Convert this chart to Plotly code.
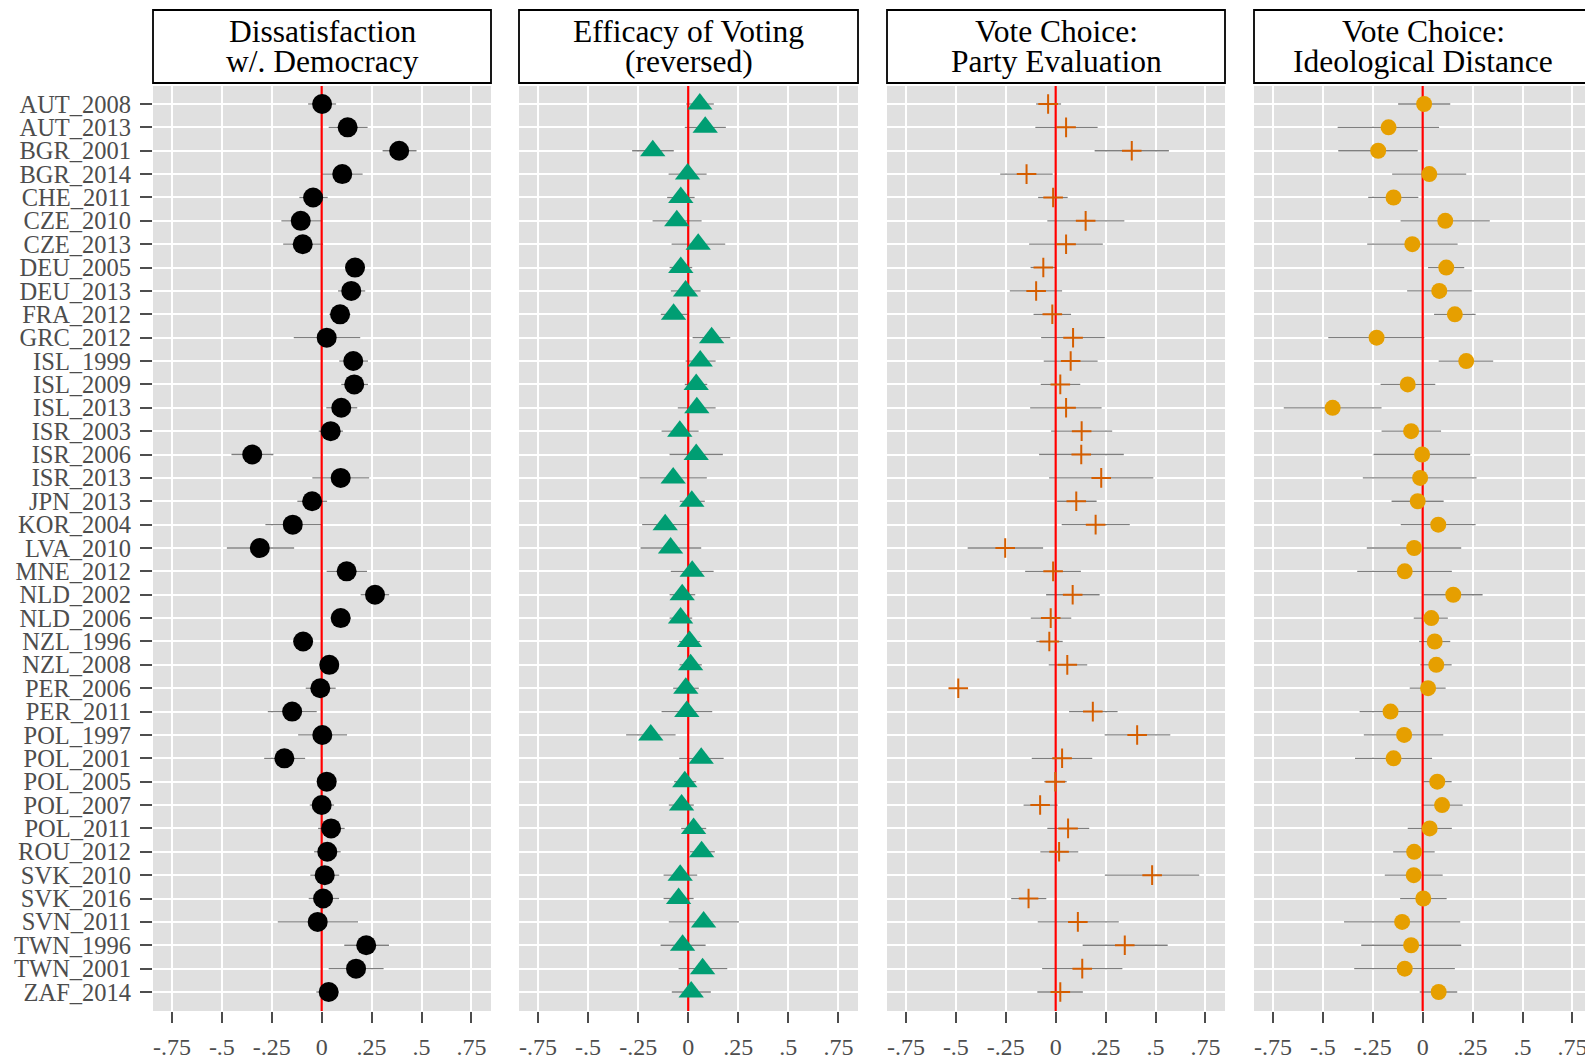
import plotly.graph_objects as go

categories = ["AUT_2008", "AUT_2013", "BGR_2001", "BGR_2014", "CHE_2011", "CZE_2010", "CZE_2013",
              "DEU_2005", "DEU_2013", "FRA_2012", "GRC_2012", "ISL_1999", "ISL_2009", "ISL_2013",
              "ISR_2003", "ISR_2006", "ISR_2013", "JPN_2013", "KOR_2004", "LVA_2010", "MNE_2012",
              "NLD_2002", "NLD_2006", "NZL_1996", "NZL_2008", "PER_2006", "PER_2011", "POL_1997",
              "POL_2001", "POL_2005", "POL_2007", "POL_2011", "ROU_2012", "SVK_2010", "SVK_2016",
              "SVN_2011", "TWN_1996", "TWN_2001", "ZAF_2014"]

panel_titles = [("Dissatisfaction", "w/. Democracy"),
                ("Efficacy of Voting", "(reversed)"),
                ("Vote Choice:", "Party Evaluation"),
                ("Vote Choice:", "Ideological Distance")]

tick_vals = [-0.75, -0.5, -0.25, 0, 0.25, 0.5, 0.75]
tick_text = ["-.75", "-.5", "-.25", "0", ".25", ".5", ".75"]

# Panel 1: Dissatisfaction w/. Democracy
est1 = [0.002, 0.13, 0.388, 0.103, -0.043, -0.105, -0.095, 0.167, 0.148, 0.092, 0.025, 0.158, 0.163, 0.098,
        0.045, -0.348, 0.095, -0.048, -0.145, -0.31, 0.125, 0.267, 0.095, -0.093, 0.038, -0.007, -0.148,
        0.003, -0.187, 0.025, 0.0, 0.047, 0.028, 0.015, 0.007, -0.02, 0.223, 0.172, 0.035]
lo1 = [-0.068, 0.035, 0.305, 0.003, -0.112, -0.202, -0.193, 0.118, 0.082, 0.038, -0.14, 0.088, 0.098, 0.023,
       -0.015, -0.452, -0.047, -0.122, -0.282, -0.475, 0.025, 0.195, 0.045, -0.14, -0.01, -0.08, -0.27,
       -0.118, -0.288, -0.025, -0.06, -0.018, -0.038, -0.057, -0.065, -0.22, 0.113, 0.035, -0.027]
hi1 = [0.072, 0.23, 0.475, 0.205, 0.03, -0.003, 0.007, 0.21, 0.218, 0.143, 0.193, 0.232, 0.232, 0.178,
       0.107, -0.242, 0.238, 0.027, -0.003, -0.138, 0.227, 0.338, 0.145, -0.048, 0.085, 0.07, -0.025,
       0.127, -0.083, 0.073, 0.062, 0.115, 0.095, 0.088, 0.087, 0.182, 0.337, 0.31, 0.085]

# Panel 2: Efficacy of Voting (reversed)
est2 = [0.058, 0.085, -0.177, -0.003, -0.037, -0.057, 0.05, -0.037, -0.013, -0.073, 0.117, 0.06, 0.04, 0.043,
        -0.042, 0.04, -0.075, 0.018, -0.115, -0.088, 0.02, -0.03, -0.038, 0.007, 0.012, -0.012, -0.007,
        -0.187, 0.065, -0.017, -0.033, 0.027, 0.067, -0.04, -0.048, 0.077, -0.028, 0.072, 0.015]
lo2 = [-0.01, -0.017, -0.28, -0.098, -0.105, -0.178, -0.083, -0.093, -0.087, -0.137, 0.022, -0.013, -0.017,
       -0.052, -0.133, -0.093, -0.243, -0.042, -0.23, -0.238, -0.087, -0.093, -0.093, -0.045, -0.043, -0.075,
       -0.133, -0.31, -0.045, -0.07, -0.097, -0.035, 0.008, -0.123, -0.123, -0.097, -0.138, -0.048, -0.082]
hi2 = [0.128, 0.188, -0.072, 0.092, 0.032, 0.067, 0.185, 0.02, 0.062, -0.005, 0.21, 0.137, 0.095, 0.137,
       0.052, 0.173, 0.093, 0.083, 0.003, 0.065, 0.127, 0.035, 0.02, 0.06, 0.068, 0.053, 0.12, -0.063, 0.177,
       0.04, 0.028, 0.09, 0.133, 0.045, 0.027, 0.253, 0.087, 0.195, 0.113]

# Panel 3: Vote Choice: Party Evaluation
est3 = [-0.038, 0.052, 0.381, -0.146, -0.013, 0.15, 0.052, -0.062, -0.098, -0.017, 0.087, 0.075, 0.023, 0.052,
        0.13, 0.128, 0.228, 0.103, 0.2, -0.253, -0.013, 0.085, -0.025, -0.032, 0.058, -0.488, 0.186, 0.408,
        0.032, -0.002, -0.078, 0.062, 0.017, 0.483, -0.136, 0.111, 0.346, 0.133, 0.023]
lo3 = [-0.098, -0.102, 0.195, -0.278, -0.088, -0.042, -0.133, -0.126, -0.23, -0.111, -0.073, -0.06, -0.075,
       -0.128, -0.023, -0.083, -0.033, 0.007, 0.03, -0.441, -0.153, -0.048, -0.125, -0.097, -0.035, -0.488,
       0.067, 0.245, -0.12, -0.057, -0.161, -0.042, -0.077, 0.246, -0.223, -0.09, 0.135, -0.068, -0.092]
hi3 = [0.027, 0.21, 0.567, -0.015, 0.06, 0.344, 0.236, 0.0, 0.032, 0.077, 0.246, 0.21, 0.123, 0.23, 0.283,
       0.341, 0.489, 0.205, 0.371, -0.063, 0.126, 0.22, 0.078, 0.035, 0.158, -0.488, 0.31, 0.574, 0.183,
       0.055, 0.01, 0.168, 0.113, 0.719, -0.047, 0.316, 0.561, 0.334, 0.136]

# Panel 4: Vote Choice: Ideological Distance
est4 = [0.007, -0.171, -0.223, 0.033, -0.146, 0.113, -0.052, 0.118, 0.083, 0.161, -0.231, 0.218, -0.075,
        -0.451, -0.058, -0.003, -0.013, -0.025, 0.078, -0.043, -0.09, 0.153, 0.043, 0.06, 0.068, 0.027,
        -0.161, -0.093, -0.146, 0.073, 0.097, 0.035, -0.043, -0.045, 0.003, -0.103, -0.058, -0.09, 0.08]
lo4 = [-0.123, -0.426, -0.423, -0.153, -0.273, -0.111, -0.278, 0.027, -0.078, 0.057, -0.473, 0.08, -0.211,
       -0.696, -0.206, -0.246, -0.3, -0.156, -0.11, -0.28, -0.328, 0.005, -0.045, -0.018, -0.012, -0.065,
       -0.316, -0.295, -0.339, 0.005, -0.005, -0.075, -0.148, -0.19, -0.113, -0.394, -0.308, -0.343, -0.015]
hi4 = [0.138, 0.082, -0.025, 0.218, -0.022, 0.336, 0.175, 0.208, 0.246, 0.265, 0.008, 0.353, 0.063, -0.206,
       0.092, 0.238, 0.27, 0.105, 0.265, 0.193, 0.146, 0.3, 0.126, 0.138, 0.145, 0.115, -0.005, 0.103, 0.047,
       0.145, 0.2, 0.146, 0.06, 0.1, 0.12, 0.188, 0.193, 0.161, 0.173]

panels = [
    (est1, lo1, hi1, dict(symbol="circle", size=20, color="black", line=dict(width=0))),
    (est2, lo2, hi2, dict(symbol="triangle-up", size=22, color="#009E73", line=dict(width=0))),
    (est3, lo3, hi3, dict(symbol="cross-thin", size=14, color="#D55E00", line=dict(width=2, color="#D55E00"))),
    (est4, lo4, hi4, dict(symbol="circle", size=16, color="#E69F00", line=dict(width=0))),
]

# row positions on the y scale (one per category)
rows = list(range(len(categories)))
y_range = [len(categories) - 1 + 0.813, -0.770]

# page body adds an 8px margin; figure placed accordingly
OFF = 8
W, H = 1593 - OFF, 1061 - OFF
px_left = [153 - OFF, 519 - OFF, 887 - OFF, 1254 - OFF]
px_right = [491 - OFF, 858 - OFF, 1225 - OFF, 1592 - OFF]
plot_top, plot_bot = 86 - OFF, 1011 - OFF
box_top, box_bot = 10 - OFF, 83 - OFF
title_y = [31.6 - OFF, 61.6 - OFF]

FONT = "Liberation Serif, Times New Roman, serif"
BG = "#E0E0E0"

fig = go.Figure()
shapes = []
annotations = []
layout_axes = {}

for i, (est, lo, hi, mk) in enumerate(panels):
    n = "" if i == 0 else str(i + 1)
    xa, ya = "x" + n, "y" + n
    # confidence intervals
    fig.add_trace(go.Scatter(
        x=est, y=rows, mode="markers", xaxis=xa, yaxis=ya,
        marker=dict(size=1, opacity=0), showlegend=False, hoverinfo="skip",
        error_x=dict(type="data", symmetric=False,
                     array=[h - e for h, e in zip(hi, est)],
                     arrayminus=[e - l for e, l in zip(est, lo)],
                     color="#7F7F7F", thickness=1.3, width=0),
    ))
    # zero reference line spanning the panel
    fig.add_trace(go.Scatter(
        x=[0, 0], y=y_range, mode="lines", xaxis=xa, yaxis=ya,
        line=dict(color="red", width=2.2), showlegend=False, hoverinfo="skip", cliponaxis=True,
    ))
    # point estimates
    fig.add_trace(go.Scatter(
        x=est, y=rows, mode="markers", xaxis=xa, yaxis=ya,
        marker=mk, showlegend=False, text=categories,
    ))
    layout_axes["xaxis" + n] = dict(
        domain=[px_left[i] / W, px_right[i] / W], anchor=ya,
        range=[-0.845, 0.848], tickmode="array", tickvals=tick_vals, ticktext=tick_text,
        showgrid=True, gridcolor="white", gridwidth=2, zeroline=False,
        ticks="outside", ticklen=11, tickwidth=2, tickcolor="#4D4D4D",
        ticklabelstandoff=3,
        tickfont=dict(family=FONT, size=24, color="#4D4D4D"),
        showline=False, fixedrange=True,
    )
    layout_axes["yaxis" + n] = dict(
        domain=[1 - plot_bot / H, 1 - plot_top / H], anchor=xa,
        range=y_range, tickmode="array", tickvals=rows, ticktext=categories,
        showgrid=True, gridcolor="white", gridwidth=2, zeroline=False,
        showticklabels=(i == 0), ticks="outside" if i == 0 else "",
        ticklen=12, tickwidth=2, tickcolor="#4D4D4D",
        ticklabelstandoff=4,
        tickfont=dict(family=FONT, size=24.5, color="#4D4D4D"),
        showline=False, fixedrange=True,
    )
    # strip box
    shapes.append(dict(type="rect", xref="paper", yref="paper",
                       x0=px_left[i] / W, x1=px_right[i] / W,
                       y0=1 - box_bot / H, y1=1 - box_top / H,
                       fillcolor="white", line=dict(color="black", width=1.8)))
    xc = (px_left[i] + px_right[i]) / 2 / W
    for line_txt, ypx in zip(panel_titles[i], title_y):
        annotations.append(dict(text=line_txt, x=xc, y=1 - ypx / H, xref="paper", yref="paper",
                                xanchor="center", yanchor="middle", showarrow=False,
                                font=dict(family=FONT, size=31.5, color="black")))

fig.update_layout(
    width=W, height=H, margin=dict(l=0, r=0, t=0, b=0),
    paper_bgcolor="white", plot_bgcolor=BG,
    shapes=shapes, annotations=annotations, **layout_axes,
)

fig.write_html("out.html")
